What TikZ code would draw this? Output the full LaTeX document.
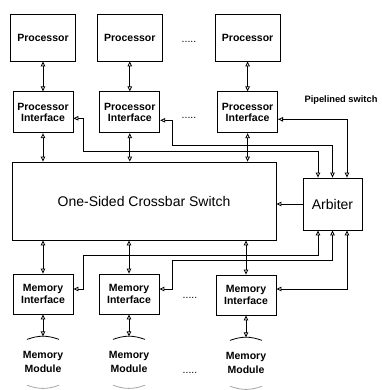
\documentclass[tikz,border=0pt]{standalone}
\usepackage{fontspec}
\setmainfont{Liberation Sans}
\usetikzlibrary{positioning,arrows.meta}

\begin{document}
\begin{tikzpicture}[
x=1pt,y=-1pt,line width=0.8pt,
every node/.style={align=center,font=\bfseries\fontsize{10.5}{11.5}\selectfont},
box/.style={draw,minimum width=60pt,minimum height=41pt,inner sep=1pt},
proc/.style={box,minimum width=65pt,minimum height=47pt},
mem/.style={font=\bfseries\fontsize{10.5}{14}\selectfont,minimum width=34pt,minimum height=50pt,inner sep=0pt},
big/.style={draw,font=\fontsize{14}{16}\selectfont},
dots/.style={font=\fontsize{10.5}{11.5}\selectfont},
>={Triangle[open,length=5pt,width=4.5pt]}
]
\useasboundingbox (0,0) rectangle (381,390);

% processors
\node[proc] (p1) at (43,37.5) {Processor};
\node[proc,right=21pt of p1] (p2) {Processor};
\node[proc,right=52pt of p2] (p3) {Processor};

% processor interfaces
\node[box,below=30pt of p1] (pi1) {Processor\\Interface};
\node[box,below=30pt of p2] (pi2) {Processor\\Interface};
\node[box,below=30pt of p3] (pi3) {Processor\\Interface};

\node[big,minimum width=264pt,minimum height=78pt] (xbar) at (144,201) {One-Sided Crossbar Switch};
\node[big,minimum width=59pt,minimum height=52pt] (arb) at (332.5,204) {Arbiter};
\node[font=\bfseries\fontsize{9.3}{11}\selectfont] (ps) at (341,100) {Pipelined switch};

% memory side
\node[box,minimum height=40pt] (mi1) at (43,294) {Memory\\Interface};
\node[box,minimum height=40pt] (mi2) at (129,294) {Memory\\Interface};
\node[box,minimum height=40pt] (mi3) at (246,295) {Memory\\Interface};
\node[mem,below=22pt of mi1] (mm1) {Memory\\Module};
\node[mem,below=22pt of mi2] (mm2) {Memory\\Module};
\node[mem,below=22pt of mi3] (mm3) {Memory\\Module};

\node[dots] (d1) at (189,42) {.....};
\node[dots] (d2) at (189,118) {.....};
\node[dots] (d3) at (190,298) {.....};
\node[dots] (d4) at (190,373) {.....};

\foreach \m in {mm1,mm2,mm3} {
  \draw ([xshift=-16pt,yshift=-3pt]\m.north) to[bend left=20] ([xshift=16pt,yshift=-3pt]\m.north);
  \draw[black!35] ([xshift=-16pt,yshift=2pt]\m.south) to[bend right=20] ([xshift=16pt,yshift=2pt]\m.south);
}

\foreach \a/\b in {p1/pi1,p2/pi2,p3/pi3,mi1/mm1,mi2/mm2,mi3/mm3}
  \draw[<->] (\a) -- (\b);
\foreach \a in {pi1,pi2,pi3}
  \draw[<->] (\a) -- (\a |- xbar.north);
\foreach \a in {mi1,mi2,mi3}
  \draw[<->] (\a |- xbar.south) -- (\a);

\draw[->] (arb) -- (arb -| xbar.east);

% arbiter wires
\draw[<->] ([yshift=-6pt]pi1.east) -| (83,151) -| ([xshift=-14.5pt]arb.north);
\draw[<->] ([yshift=-8pt]pi2.east) -| (172,145) -| (arb.north);
\draw[<->] ([yshift=-7pt]pi3.east) -| ([xshift=14.5pt]arb.north);
\draw[<->] ([yshift=5pt]mi1.east) -| (83,255) -| ([xshift=-14.5pt]arb.south);
\draw[<->] ([yshift=5pt]mi2.east) -| (172,260) -| (arb.south);
\draw[<->] ([yshift=6pt]mi3.east) -| ([xshift=14.5pt]arb.south);

\end{tikzpicture}
\end{document}
